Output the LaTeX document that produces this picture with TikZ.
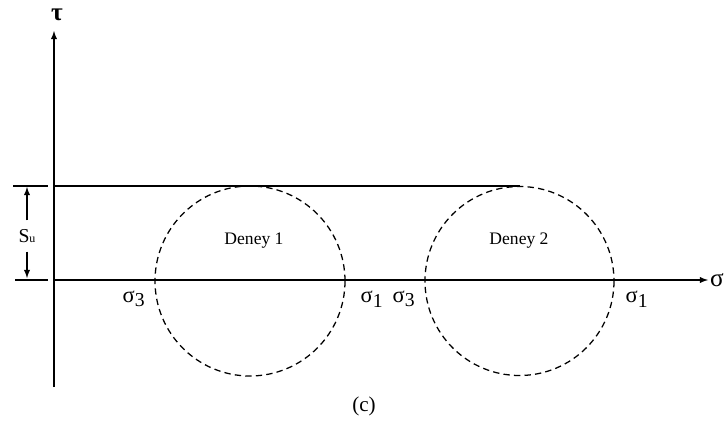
\documentclass[tikz,border=0pt]{standalone}
\usepackage{fontspec}
\setmainfont{Liberation Serif}
\usetikzlibrary{arrows,positioning}

\begin{document}
\begin{tikzpicture}[x=0.025cm, y=-0.025cm, line width=1pt]
    \useasboundingbox (0,0) rectangle (726,435);
    \tikzset{mohr/.style={dash pattern=on 4.5pt off 3pt, line width=0.9pt}}
    \tikzset{siglabel/.style={font=\fontsize{16}{16}\selectfont, inner sep=0pt}}

    % axes
    \coordinate (origin) at (54,280);
    \coordinate (taubottom) at (54,387);
    \coordinate (tautop) at (54,31);
    \coordinate (sigend) at (708,280);
    \draw[-latex] (taubottom) -- (tautop);
    \draw[-latex] (origin) -- (sigend);
    \node (tau) [siglabel, font=\fontsize{18}{18}\bfseries] at (57,15) {τ};
    \node (sig) [siglabel, font=\fontsize{18}{18}\selectfont, right=1pt of sigend] {σ};

    % shear limit line and ticks
    \coordinate (limstart) at (54,186);
    \coordinate (limend) at (520,186);
    \draw (limstart) -- (limend);
    \draw (13,186) -- (48,186);
    \draw (15,280) -- (48,280);

    % Su
    \node (su) [inner sep=1pt] at (27,236) {\fontsize{14}{14}\selectfont S\fontsize{8.5}{8.5}\selectfont u};
    \coordinate (sutop) at (27,187);
    \coordinate (subottom) at (27,278);
    \draw[-latex] (su.north) ++(0,-7) -- (sutop);
    \draw[-latex] (su.south) ++(0,7) -- (subottom);

    % circles
    \draw[mohr] (250,281) circle (95);
    \draw[mohr] (519.5,281) circle (94.5);
    \node (deney1) at (254,241) {\fontsize{12.5}{13}\selectfont Deney 1};
    \node (deney2) at (519,241) {\fontsize{12.5}{13}\selectfont Deney 2};

    % stress labels
    \node (s3a) [siglabel] at (134,299) {σ\textsubscript{\fontsize{14}{14}\selectfont 3}};
    \node (s1a) [siglabel] at (372,299) {σ\textsubscript{\fontsize{14}{14}\selectfont 1}};
    \node (s3b) [siglabel] at (404,299) {σ\textsubscript{\fontsize{14}{14}\selectfont 3}};
    \node (s1b) [siglabel] at (637,299) {σ\textsubscript{\fontsize{14}{14}\selectfont 1}};

    \node (caption) at (364,406) {\fontsize{15}{15}\selectfont (c)};
\end{tikzpicture}
\end{document}
